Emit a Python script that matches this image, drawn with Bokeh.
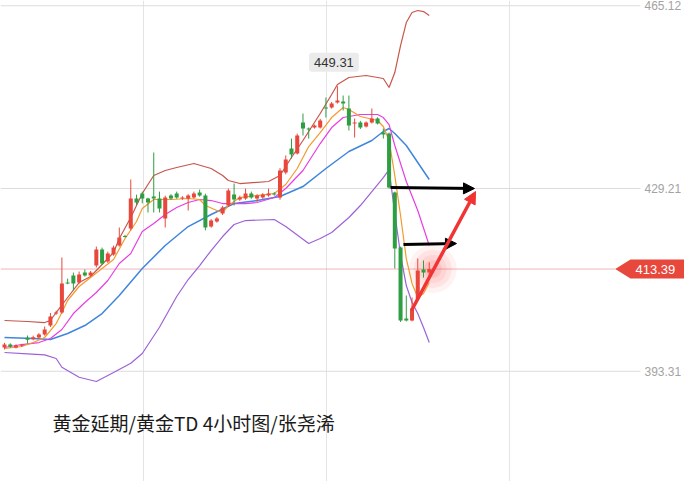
from bokeh.plotting import figure
from bokeh.models import (ColumnDataSource, FixedTicker, Label, Arrow,
                          NormalHead, PolyAnnotation, Range1d, NumeralTickFormatter)
from bokeh.embed import file_html
from bokeh.resources import INLINE

# ---------------- data (4-hour candles) ----------------
opens = [397.97, 398.56, 397.97, 398.30, 399.90, 399.60, 399.94, 400.53, 402.30, 404.65,
         404.85, 410.70, 412.12, 410.74, 412.71, 412.12, 414.08, 417.22, 414.87, 416.24,
         418.01, 419.90, 421.35, 427.25, 428.23, 427.25, 427.64, 427.25, 423.32, 427.83,
         428.23, 427.25, 427.25, 427.44, 428.42, 427.83, 421.75, 422.73, 424.30, 425.87,
         428.03, 427.05, 427.25, 428.23, 427.25, 427.44, 427.83, 428.23, 427.44, 432.35,
         437.07, 436.09, 442.18, 441.00, 441.19, 441.19, 445.12, 445.12, 446.11, 446.30,
         444.93, 441.98, 442.18, 441.39, 442.18, 442.96, 440.21, 440.02, 428.42, 417.62,
         403.67, 403.28, 407.50, 413.30, 412.71]
highs = [398.90, 398.80, 398.60, 398.70, 400.33, 400.30, 400.80, 402.10, 404.75, 405.20,
         415.65, 411.50, 412.70, 412.90, 413.30, 413.00, 417.81, 417.60, 416.80, 418.00,
         421.55, 420.10, 430.98, 428.00, 428.60, 427.40, 436.28, 428.60, 427.80, 428.10,
         428.60, 427.70, 428.10, 428.60, 429.00, 428.20, 423.20, 423.60, 425.80, 429.20,
         430.19, 427.80, 429.20, 428.60, 428.10, 428.30, 429.20, 428.50, 433.20, 435.70,
         439.03, 440.00, 443.94, 441.20, 441.80, 442.90, 447.09, 446.20, 449.31, 447.48,
         447.48, 442.96, 442.50, 442.40, 444.93, 443.20, 441.00, 440.20, 428.60, 417.80,
         408.19, 407.80, 415.46, 415.06, 414.70]
lows = [397.60, 397.90, 397.80, 398.10, 398.76, 399.40, 399.70, 400.30, 402.00, 404.40,
        404.60, 410.40, 409.20, 410.50, 411.90, 411.90, 413.70, 414.20, 414.60, 416.00,
        417.80, 419.60, 421.00, 426.00, 426.30, 424.50, 424.50, 424.50, 421.55, 427.00,
        427.20, 427.00, 424.89, 427.20, 427.60, 421.00, 421.50, 422.50, 424.00, 425.60,
        425.87, 426.80, 427.00, 427.20, 426.60, 427.20, 427.60, 427.80, 427.00, 432.00,
        435.10, 435.90, 439.62, 439.03, 441.00, 441.00, 443.16, 444.90, 445.90, 444.53,
        440.60, 439.23, 440.90, 441.20, 441.98, 441.80, 439.03, 429.21, 413.49, 403.00,
        403.10, 403.10, 407.20, 411.72, 411.72]
closes = [398.56, 398.17, 398.37, 398.40, 399.50, 400.00, 400.53, 401.51, 404.06, 404.85,
          410.55, 410.55, 410.55, 412.31, 412.12, 412.71, 417.22, 414.48, 416.44, 417.62,
          419.58, 419.70, 427.25, 426.46, 427.25, 426.46, 427.25, 425.28, 427.44, 427.25,
          427.44, 427.44, 427.83, 428.23, 427.83, 421.55, 422.92, 423.32, 425.48, 428.82,
          427.05, 427.44, 428.23, 427.44, 427.83, 428.03, 428.23, 428.03, 432.75, 434.91,
          435.89, 439.62, 441.00, 440.80, 441.59, 442.57, 444.93, 445.91, 446.50, 445.91,
          441.59, 442.18, 441.19, 442.18, 442.96, 441.98, 439.82, 429.41, 417.42, 403.28,
          403.28, 405.63, 413.10, 412.71, 413.39]

# moving averages and Bollinger bands (candle index, price)
ma5_x = [0, 3, 5, 7, 9, 10, 11, 13, 15, 17, 19, 21, 23, 24, 26, 29, 32, 34, 35, 37, 38, 39,
         41, 44, 47, 49, 51, 53, 55, 57, 59, 60, 62, 65, 66, 67, 68, 69, 70, 71, 72, 73, 74]
ma5_y = [397.78, 398.17, 398.95, 399.94, 402.69, 404.85, 407.21, 409.96, 411.72, 413.49,
         415.26, 419.39, 422.73, 425.28, 427.05, 427.05, 427.25, 427.05, 425.87, 424.89,
         424.49, 425.87, 427.44, 427.83, 428.23, 430.00, 433.14, 437.46, 440.21, 443.16,
         445.12, 444.73, 443.36, 442.57, 441.39, 438.64, 431.76, 423.91, 415.46, 410.55,
         407.80, 408.58, 410.74]
ma10_x = [0, 3, 6, 8, 10, 12, 14, 16, 18, 20, 22, 24, 26, 28, 30, 32, 34, 36, 38, 42, 44,
          47, 49, 52, 55, 57, 59, 62, 65, 66, 67, 68, 70, 72, 74]
ma10_y = [397.97, 398.56, 398.95, 399.74, 401.51, 404.65, 406.81, 408.78, 411.14, 414.48,
          416.44, 420.76, 422.33, 424.10, 425.48, 426.46, 427.05, 426.85, 426.26, 426.26,
          426.46, 427.44, 429.21, 432.75, 438.05, 441.19, 443.16, 443.75, 443.75, 443.16,
          441.78, 437.66, 430.59, 424.89, 418.01]
ma20_x = [0, 5, 8, 11, 14, 17, 20, 24, 28, 32, 36, 40, 44, 48, 52, 56, 60, 64, 66, 67, 68,
          70, 72, 74]
ma20_y = [399.94, 399.74, 399.54, 400.72, 402.29, 404.65, 408.19, 413.49, 418.01, 421.74,
          424.10, 426.26, 426.85, 427.64, 429.60, 433.14, 436.48, 438.64, 440.41, 441.00,
          440.02, 437.66, 434.32, 430.98]
upper_x = [0, 4, 7, 8, 9, 11, 13, 15, 17, 19, 20, 22, 24, 26, 28, 30, 33, 36, 38, 39, 41,
           46, 48, 50, 52, 55, 57, 58, 60, 63, 66, 67, 68, 69, 70, 71, 72, 73, 74]
upper_y = [403.28, 403.08, 402.88, 403.28, 404.85, 407.80, 410.74, 411.92, 414.28, 416.64,
           419.39, 423.51, 428.23, 431.76, 432.75, 433.34, 434.12, 433.14, 431.76, 430.78,
           430.19, 430.59, 431.76, 435.30, 438.64, 443.94, 447.68, 449.64, 451.02, 451.41,
           450.82, 449.05, 452.00, 457.30, 461.82, 463.79, 464.18, 463.98, 463.20]
lower_x = [0, 4, 7, 9, 10, 13, 16, 19, 22, 24, 27, 30, 32, 34, 36, 38, 40, 42, 47, 49,
           53, 55, 57, 60, 62, 64, 66, 67, 68, 69, 70, 71, 72, 73, 74]
lower_y = [396.99, 396.73, 396.54, 395.81, 394.10, 392.14, 391.29, 393.06, 394.89, 396.79,
           401.96, 407.99, 411.33, 414.08, 417.03, 419.78, 422.14, 422.92, 423.12, 421.74,
           418.40, 419.39, 420.57, 423.51, 425.87, 428.62, 431.37, 432.94, 424.30, 416.24,
           410.15, 406.81, 404.65, 401.90, 398.95]

y_ticks = [393.31, 429.21, 465.12]
v_grid = [24.2, 56.1, 88.0]
last_price = 413.39
high_price = 449.31
title_text = "黄金延期/黄金TD 4小时图/张尧浠"

# drawn arrows (candle index, price)
black_arrows = [(67.25, 429.41, 81.88, 429.21), (69.51, 418.21, 78.75, 418.40)]
red_arrow = (70.91, 405.24, 82.06, 428.62)

# layout in data units (candle index / price)
X0, X1 = -0.697, 118.47       # visible index range
AXIS_X = 110.8                # where the price scale sits
Y0, Y1 = 371.65, 466.15
TAG_TIP, TAG_L, TAG_R, TAG_H = 106.4, 109.06, 119.34, 1.87

UP = "#e8473b"
DOWN = "#2e9e42"

idx = list(range(len(opens)))
body_top = [max(o, c, min(o, c) + 0.2) for o, c in zip(opens, closes)]
body_bot = [min(o, c) for o, c in zip(opens, closes)]
colors = [UP if c >= o else DOWN for o, c in zip(opens, closes)]
src = ColumnDataSource(dict(x=idx, hi=highs, lo=lows, top=body_top, bot=body_bot, col=colors))

p = figure(width=684, height=481, x_range=Range1d(X0, X1), y_range=Range1d(Y0, Y1),
           x_axis_location=None, y_axis_location="right", toolbar_location=None,
           output_backend="svg", min_border_left=0, min_border_right=0,
           min_border_top=0, min_border_bottom=0)
p.outline_line_color = None
p.background_fill_color = "white"
p.border_fill_color = "white"

p.yaxis.fixed_location = AXIS_X
p.yaxis.ticker = FixedTicker(ticks=y_ticks)
p.yaxis.formatter = NumeralTickFormatter(format="0.00")
p.yaxis.axis_line_color = None
p.yaxis.major_tick_line_color = None
p.yaxis.minor_tick_line_color = None
p.yaxis.major_tick_out = 0
p.yaxis.major_tick_in = 0
p.yaxis.minor_tick_out = 0
p.yaxis.minor_tick_in = 0
p.yaxis.major_label_standoff = 4
p.yaxis.major_label_text_color = "#a3a3a3"
p.yaxis.major_label_text_font = "Liberation Sans"
p.yaxis.major_label_text_font_size = "12px"
p.ygrid.grid_line_color = None
p.xgrid.ticker = FixedTicker(ticks=v_grid)
p.xgrid.grid_line_color = "#e4e4e4"

# horizontal price grid, ending at the price scale
p.segment(x0=[X0] * len(y_ticks), y0=y_ticks, x1=[AXIS_X] * len(y_ticks), y1=y_ticks,
          line_color="#dcdcdc", line_width=1)
# last price line
p.segment(x0=[X0], y0=[last_price], x1=[TAG_TIP], y1=[last_price], line_color="#f0b4b4", line_width=1)

# glow at last price
for s, a in zip([48, 38, 28, 18], [0.06, 0.07, 0.08, 0.1]):
    p.scatter([74.6], [last_price], size=s, fill_color="#ff2a2a", fill_alpha=a, line_color=None)

p.line(upper_x, upper_y, line_color="#c8564b", line_width=1.2)
p.line(lower_x, lower_y, line_color="#9d62d8", line_width=1.2)
p.line(ma20_x, ma20_y, line_color="#3f86de", line_width=1.5)
p.line(ma10_x, ma10_y, line_color="#e83ee0", line_width=1.2)
p.line(ma5_x, ma5_y, line_color="#f39a2c", line_width=1.2)

p.segment(x0="x", y0="hi", x1="x", y1="lo", line_color="col", line_width=1, source=src)
p.vbar(x="x", top="top", bottom="bot", width=0.7, fill_color="col", line_color=None, source=src)

for (x0, y0, x1, y1) in black_arrows:
    p.add_layout(Arrow(x_start=x0, y_start=y0, x_end=x1, y_end=y1, line_color="black",
                       line_width=3, end=NormalHead(size=11, fill_color="black", line_color="black")))
p.add_layout(Arrow(x_start=red_arrow[0], y_start=red_arrow[1], x_end=red_arrow[2], y_end=red_arrow[3],
                   line_color="#f03434", line_width=3.5,
                   end=NormalHead(size=12, fill_color="#f03434", line_color="#f03434")))

# high label
hi_i = highs.index(max(highs))
p.add_layout(Label(x=hi_i - 0.6, y=high_price, y_offset=24, text=f"{high_price:.2f}",
                   text_align="center", text_baseline="middle", text_font="Liberation Sans",
                   text_font_size="13px", text_color="#333333", background_fill_color="#ebebeb",
                   padding=5, border_radius=3))

# last price tag
p.add_layout(PolyAnnotation(xs=[TAG_TIP, TAG_L, TAG_R, TAG_R, TAG_L],
                            ys=[last_price, last_price + TAG_H, last_price + TAG_H,
                                last_price - TAG_H, last_price - TAG_H],
                            fill_color=UP, fill_alpha=1, line_color=None))
p.add_layout(Label(x=113.4, y=last_price, text=f"{last_price:.2f}", text_align="center",
                   text_baseline="middle", text_font="Liberation Sans",
                   text_font_size="13px", text_color="white"))

p.add_layout(Label(x=8.36, y=383.24, text=title_text, text_align="left", text_baseline="middle",
                   text_font="Noto Sans CJK SC", text_font_size="19px", text_color="#1a1a1a"))

open("out.html", "w").write(file_html(p, INLINE))
